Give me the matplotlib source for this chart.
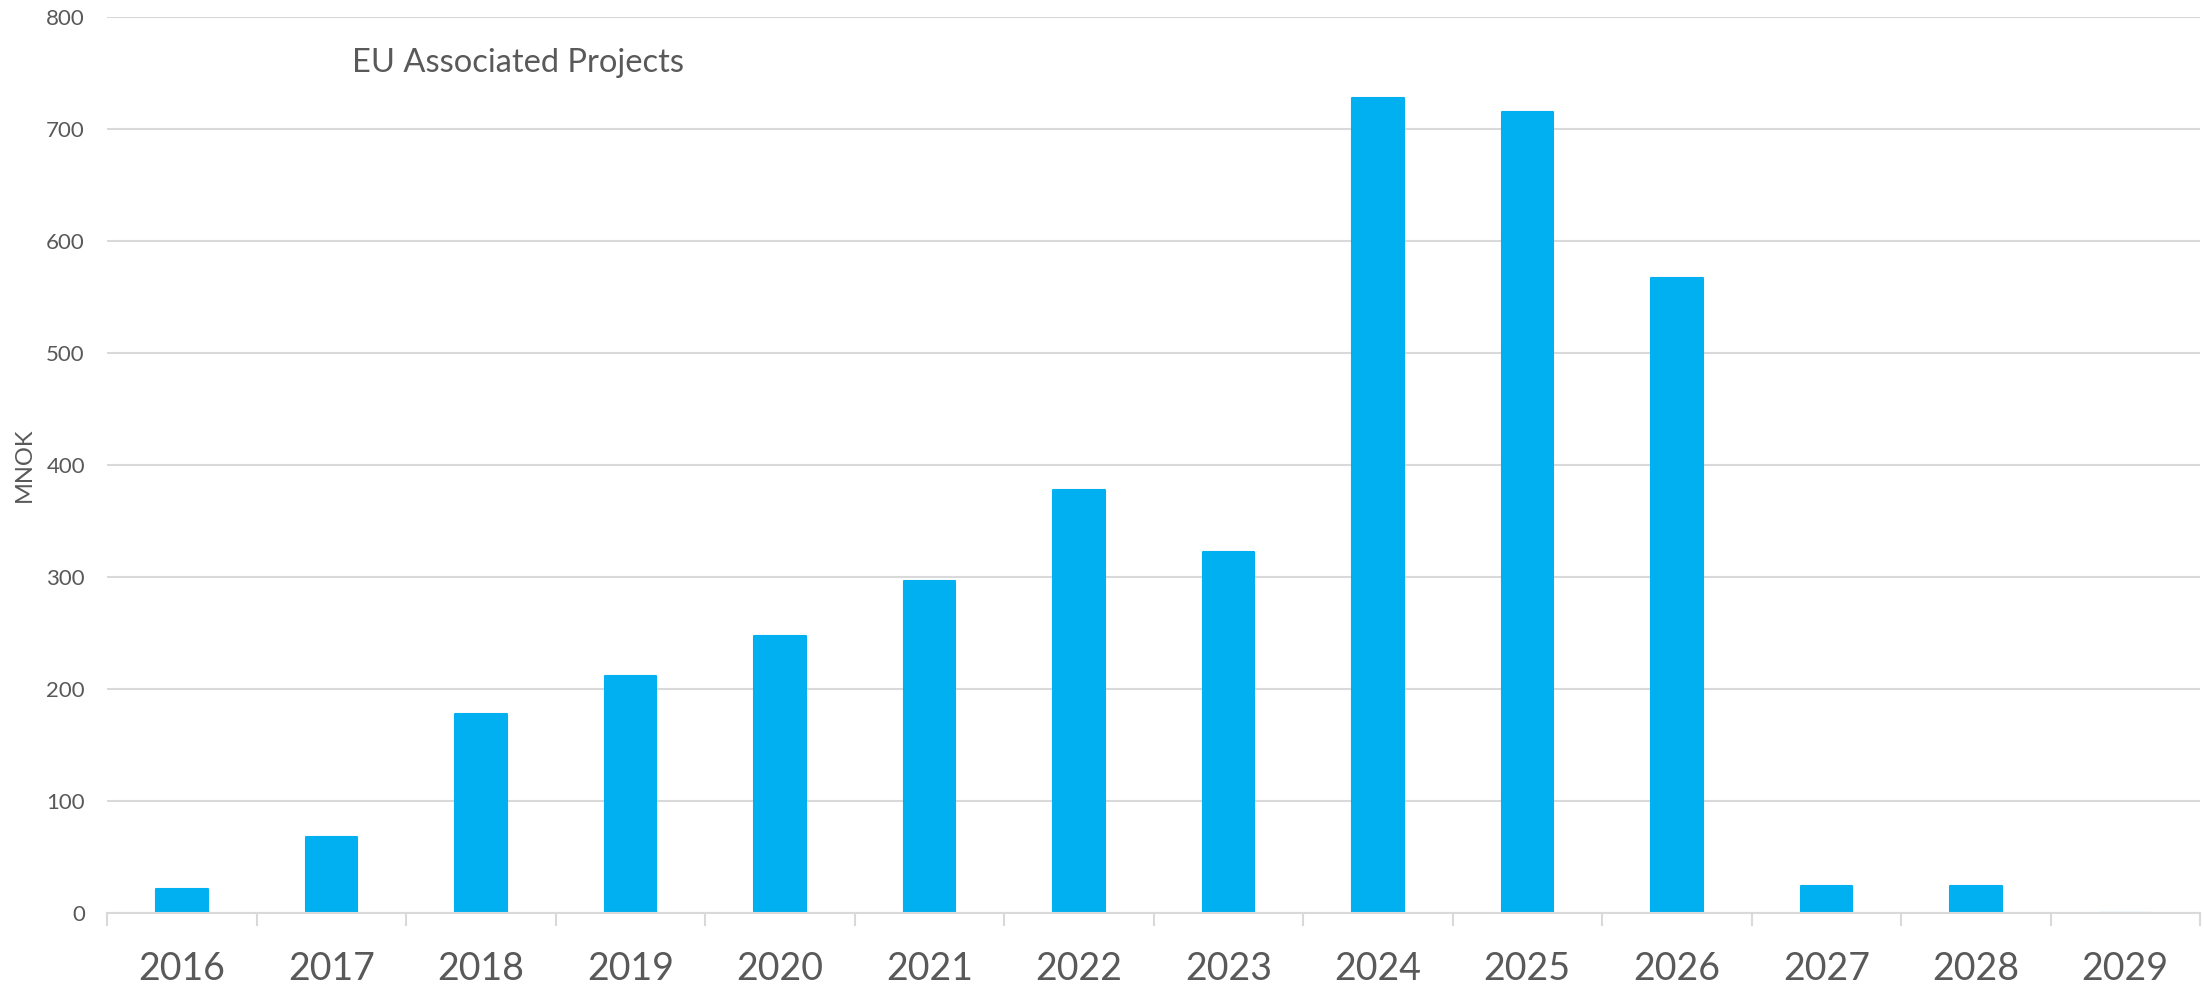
import matplotlib.pyplot as plt
from matplotlib.ticker import MultipleLocator, FixedLocator
import numpy as np

years = ['2016', '2017', '2018', '2019', '2020', '2021', '2022',
         '2023', '2024', '2025', '2026', '2027', '2028', '2029']
mnok = [22, 68, 178, 212, 248, 297, 378, 323, 728, 715, 567, 24, 24, 0]

bar_color = '#00B0F0'
text_color = '#595959'
grid_color = '#D9D9D9'

plt.rcParams['font.family'] = ['Lato', 'DejaVu Sans']

fig = plt.figure(figsize=(22.04, 9.88), dpi=100)
ax = fig.add_axes([0.0486, 0.0756, 0.9496, 0.9069])

x = np.arange(len(years))
ax.bar(x, mnok, width=0.345, color=bar_color, edgecolor=bar_color,
       linewidth=1.5, joinstyle='round', zorder=2)

ax.set_xlim(-0.5, len(years) - 0.5)
ax.set_ylim(0, 800)
ax.yaxis.set_major_locator(MultipleLocator(100))
ax.set_axisbelow(True)
ax.grid(axis='y', color=grid_color, linewidth=1.5)

ax.set_xticks(x)
ax.set_xticklabels(years)
ax.xaxis.set_minor_locator(FixedLocator(np.arange(-0.5, len(years), 1.0)))
ax.tick_params(axis='x', which='major', length=0, pad=27, labelsize=27, labelcolor=text_color)
ax.tick_params(axis='x', which='minor', length=9.5, width=1.5, color=grid_color, direction='out')
ax.tick_params(axis='y', length=0, pad=16, labelsize=16, labelcolor=text_color)

for side in ['top', 'right', 'left']:
    ax.spines[side].set_visible(False)
ax.spines['bottom'].set_color(grid_color)
ax.spines['bottom'].set_linewidth(1.5)
ax.spines['bottom'].set_zorder(3)

fig.text(0.0109, 0.53, 'MNOK', rotation=90, ha='center', va='center',
         fontsize=17, color=text_color)
fig.text(0.1596, 0.927, 'EU Associated Projects', ha='left', va='baseline',
         fontsize=23.5, color=text_color)

fig.savefig('out.png', dpi=100)
